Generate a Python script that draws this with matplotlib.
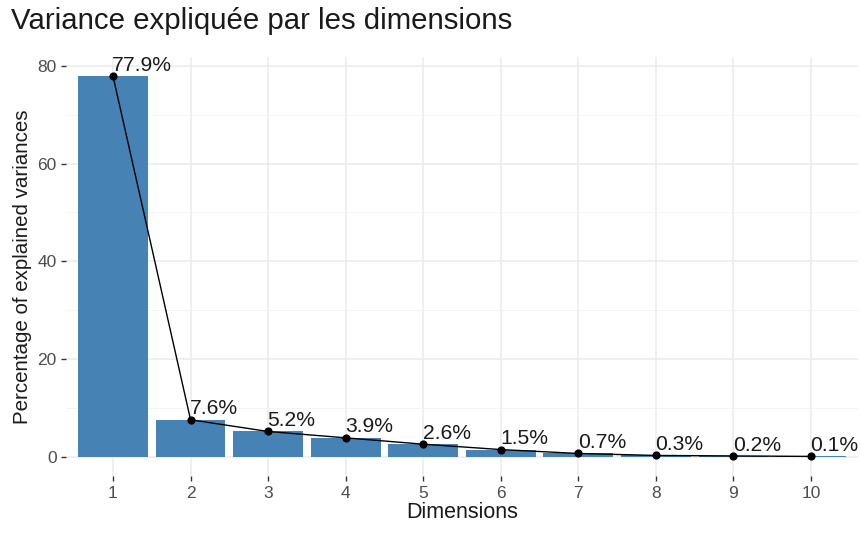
import matplotlib
matplotlib.use("Agg")
import matplotlib.pyplot as plt
from matplotlib.ticker import MultipleLocator

plt.rcParams['font.family'] = ['Liberation Sans', 'DejaVu Sans']

# scree plot data
dims = [1, 2, 3, 4, 5, 6, 7, 8, 9, 10]
variances = [77.9, 7.6, 5.2, 3.9, 2.6, 1.5, 0.7, 0.3, 0.2, 0.1]
labels = ['77.9%', '7.6%', '5.2%', '3.9%', '2.6%', '1.5%', '0.7%', '0.3%', '0.2%', '0.1%']

fig = plt.figure(figsize=(8.62, 5.33), dpi=100)
ax = fig.add_axes([0.0771, 0.107, 0.9177, 0.786])

ax.bar(dims, variances, width=0.9, color='#4682B4', zorder=2)
ax.plot(dims, variances, color='black', lw=1, zorder=3)
ax.scatter(dims, variances, s=24, color='black', zorder=4)
for x, y, t in zip(dims, variances, labels):
    ax.annotate(t, (x, y), xytext=(-0.5, 1), textcoords='offset points',
                ha='left', va='bottom', fontsize=15.2, color='#1a1a1a', zorder=5)

ax.set_xlim(0.4, 10.6)
ax.set_ylim(-3.9, 81.8)
ax.set_xticks(dims)
ax.yaxis.set_major_locator(MultipleLocator(20))
ax.yaxis.set_minor_locator(MultipleLocator(10))
ax.grid(which='major', color='#EBEBEB', lw=1.1, zorder=0)
ax.grid(which='minor', axis='y', color='#F2F2F2', lw=0.6, zorder=0)
for s in ax.spines.values():
    s.set_visible(False)
ax.tick_params(axis='both', which='major', length=3.5, width=1, color='#333333',
               labelcolor='#4D4D4D', labelsize=12.5, pad=3.5)
ax.tick_params(which='minor', length=0)

ax.set_xlabel('Dimensions', fontsize=15.5, color='#1a1a1a', labelpad=1)
ax.set_ylabel('Percentage of explained variances', fontsize=14.8, color='#1a1a1a', labelpad=4)
fig.text(0.013, 0.960, 'Variance expliquée par les dimensions', fontsize=21.2,
         color='#1a1a1a', ha='left', va='center')

fig.savefig('out.png', dpi=100)
